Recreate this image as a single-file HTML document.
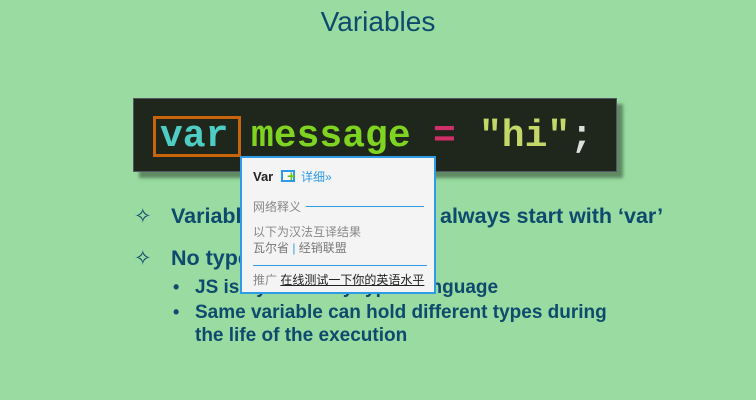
<!DOCTYPE html>
<html><head><meta charset="utf-8"><style>
*{margin:0;padding:0;box-sizing:border-box}
body{width:756px;height:400px;background:#99dba0;position:relative;overflow:hidden;font-family:"Liberation Sans","Noto Sans CJK SC",sans-serif}
.a{position:absolute;white-space:nowrap}
.t{color:#0d4a6e;font-weight:bold;font-size:21.5px}
.code{position:absolute;left:133px;top:98px;width:484px;height:74px;background:#1f261c;box-shadow:6px 6px 3px #5f8a64;border:1px solid #556}
.mono{font-family:"Liberation Mono",monospace;font-weight:bold;font-size:38px}
.pop{position:absolute;left:240px;top:156px;width:196px;height:138px;background:#f4f4f4;border:2px solid #2e9be6;font-size:12px;color:#888}
</style></head><body>
<div class="a" style="left:0;width:756px;text-align:center;top:6px;font-size:28px;color:#0d4a6e">Variables</div>
<div class="code"></div>
<div class="a mono" style="left:160px;top:115px;color:#4ecdc4">var</div>
<div class="a mono" style="left:251px;top:115px;color:#7fd321">message</div>
<div class="a mono" style="left:433px;top:115px;color:#d0306a">=</div>
<div class="a mono" style="left:479px;top:115px;color:#c4d86a">"hi"<span style="color:#ddd">;</span></div>
<div class="a" style="left:153px;top:116px;width:88px;height:41px;border:3px solid #c8640a"></div>

<div class="a" style="left:134px;top:204px;font-size:21px;color:#0d4a6e">✧</div>
<div class="a t" style="left:171px;top:204px">Variable names should</div>
<div class="a t" style="left:440px;top:204px">always start with ‘var’</div>
<div class="a" style="left:134px;top:246px;font-size:21px;color:#0d4a6e">✧</div>
<div class="a t" style="left:171px;top:246px">No type declarations</div>
<div class="a t" style="left:173px;top:277px;font-size:18px">•</div>
<div class="a t" style="left:195px;top:277px;font-size:19px">JS is dynamically typed language</div>
<div class="a t" style="left:173px;top:302px;font-size:18px">•</div>
<div class="a t" style="left:195px;top:302px;font-size:19px">Same variable can hold different types during</div>
<div class="a t" style="left:195px;top:325px;font-size:19px">the life of the execution</div>

<div class="pop">
<div class="a" style="left:11px;top:11px;font-size:13px;font-weight:bold;color:#222">Var</div>
<div class="a" style="left:39px;top:12px;width:14px;height:12px;border:2px solid #2e9be6;background:#fff"></div>
<div class="a" style="left:45px;top:12px;font-size:15px;font-weight:bold;color:#6cbf1f;line-height:14px">+</div>
<div class="a" style="left:59px;top:10px;color:#2e9be6">详细»</div>
<div class="a" style="left:11px;top:40px">网络释义</div>
<div class="a" style="left:64px;top:48px;width:118px;height:1px;background:#2e9be6"></div>
<div class="a" style="left:11px;top:65px">以下为汉法互译结果</div>
<div class="a" style="left:11px;top:81px;color:#777">瓦尔省 <span style="color:#2e9be6">|</span> 经销联盟</div>
<div class="a" style="left:11px;top:107px;width:174px;height:1px;background:#2e9be6"></div>
<div class="a" style="left:11px;top:113px">推广 <span style="color:#222;text-decoration:underline">在线测试一下你的英语水平</span></div>
</div>
</body></html>
